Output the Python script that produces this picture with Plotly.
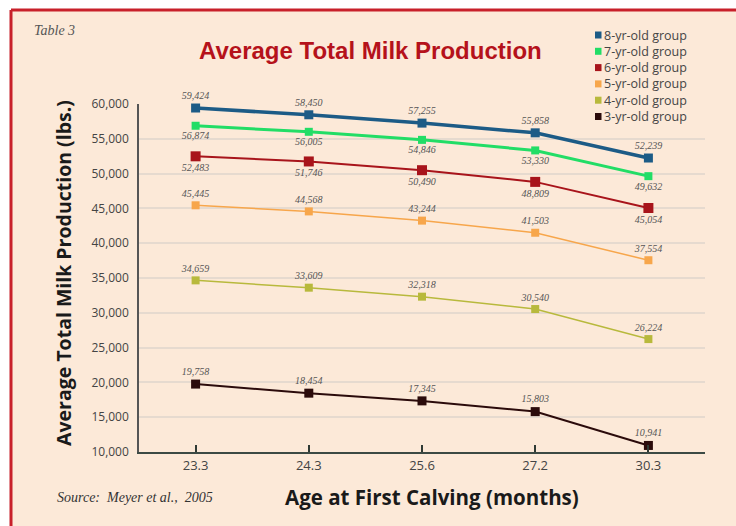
import plotly.graph_objects as go

ages = ["23.3", "24.3", "25.6", "27.2", "30.3"]
groups = ["8-yr-old group", "7-yr-old group", "6-yr-old group",
          "5-yr-old group", "4-yr-old group", "3-yr-old group"]
yr8 = [59424, 58450, 57255, 55858, 52239]
yr7 = [56874, 56005, 54846, 53330, 49632]
yr6 = [52483, 51746, 50490, 48809, 45054]
yr5 = [45445, 44568, 43244, 41503, 37554]
yr4 = [34659, 33609, 32318, 30540, 26224]
yr3 = [19758, 18454, 17345, 15803, 10941]
series = [yr8, yr7, yr6, yr5, yr4, yr3]
yticks = [10000, 15000, 20000, 25000, 30000, 35000, 40000, 45000, 50000, 55000, 60000]

colors = ["#1c5b86", "#22dd66", "#a8141b", "#f7a64b", "#b8b93c", "#2b0b0b"]
widths = [3.5, 3, 2, 1.5, 1.5, 2]
msizes = [9, 8, 10, 8, 8, 9]
tpos = ["top center", "bottom center", "bottom center", "top center", "top center", "top center"]

W, H = 736, 526
L, R, T, B = 139, 31, 104, 74
pw, ph = W - L - R, H - T - B


def px(x):
    return (x - L) / pw


def py(y):
    return (H - B - y) / ph


fig = go.Figure()
for name, vals, c, w, ms, tp in zip(groups, series, colors, widths, msizes, tpos):
    fig.add_trace(go.Scatter(
        x=ages, y=vals, name=name, mode="lines+markers+text",
        line=dict(color=c, width=w),
        marker=dict(symbol="square", size=ms, color=c),
        text=[f"{v:,}" for v in vals], textposition=tp,
        textfont=dict(family="Liberation Serif", size=10, color="#555555", style="italic"),
        showlegend=False, cliponaxis=False,
    ))

shapes = [
    dict(type="rect", xref="paper", yref="paper",
         x0=px(11), x1=px(800), y0=py(10), y1=py(600),
         fillcolor="#fce9d8", line=dict(width=0), layer="below"),
    dict(type="line", xref="paper", yref="paper",
         x0=px(11), x1=px(800), y0=py(10), y1=py(10),
         line=dict(color="#c8202a", width=3), layer="below"),
    dict(type="line", xref="paper", yref="paper",
         x0=px(11), x1=px(11), y0=py(10), y1=py(600),
         line=dict(color="#c8202a", width=3), layer="below"),
]
annotations = []
# manual legend
for i, (name, c) in enumerate(zip(groups, colors)):
    yc = 35 + i * 16.3
    shapes.append(dict(type="rect", xref="paper", yref="paper",
                       x0=px(595), x1=px(601.5), y0=py(yc - 3.5), y1=py(yc + 3.5),
                       fillcolor=c, line=dict(width=0)))
    annotations.append(dict(text=name, xref="paper", yref="paper", x=px(602), y=py(yc),
                            xanchor="left", yanchor="middle", showarrow=False,
                            font=dict(family="Open Sans", size=12.5, color="#454545")))

annotations += [
    dict(text="<b>Average Total Milk Production</b>", xref="paper", yref="paper",
         x=px(370), y=py(51), xanchor="center", yanchor="middle", showarrow=False,
         font=dict(family="Liberation Sans", size=24, color="#b5121b")),
    dict(text="Table 3", xref="paper", yref="paper", x=px(32), y=py(30),
         xanchor="left", yanchor="middle", showarrow=False,
         font=dict(family="Liberation Serif", size=14, color="#555555", style="italic")),
    dict(text="<b>Average Total Milk Production (lbs.)</b>", xref="paper", yref="paper",
         x=px(63), y=py(273), xanchor="center", yanchor="middle", textangle=-90,
         showarrow=False, font=dict(family="Open Sans", size=19.5, color="#1a1a1a")),
    dict(text="<b>Age at First Calving (months)</b>", xref="paper", yref="paper",
         x=px(432), y=py(497), xanchor="center", yanchor="middle", showarrow=False,
         font=dict(family="Open Sans", size=20.5, color="#1a1a1a")),
    dict(text="Source:  Meyer et al.,  2005", xref="paper", yref="paper",
         x=px(55), y=py(497), xanchor="left", yanchor="middle", showarrow=False,
         font=dict(family="Liberation Serif", size=14, color="#333333", style="italic")),
]

fig.update_layout(
    width=W, height=H, margin=dict(l=L, r=R, t=T, b=B),
    paper_bgcolor="white", plot_bgcolor="rgba(0,0,0,0)",
    shapes=shapes, annotations=annotations, showlegend=False,
    xaxis=dict(type="category", range=[-0.5, 4.5], showgrid=False,
               showline=True, linecolor="#3c4a44", linewidth=2,
               ticks="inside", ticklen=7, tickwidth=2, tickcolor="#2f3a34",
               tickfont=dict(family="Open Sans", size=13, color="#444444")),
    yaxis=dict(range=[10000, 60000], tickvals=yticks,
               ticktext=[f"{v:,}" for v in yticks],
               showgrid=True, gridcolor="#e6dacf", gridwidth=2,
               showline=True, linecolor="#555555", linewidth=1.5, zeroline=False,
               ticks="", ticklabelstandoff=6,
               tickfont=dict(family="Open Sans", size=12, color="#444444")),
)

fig.write_html("out.html")
